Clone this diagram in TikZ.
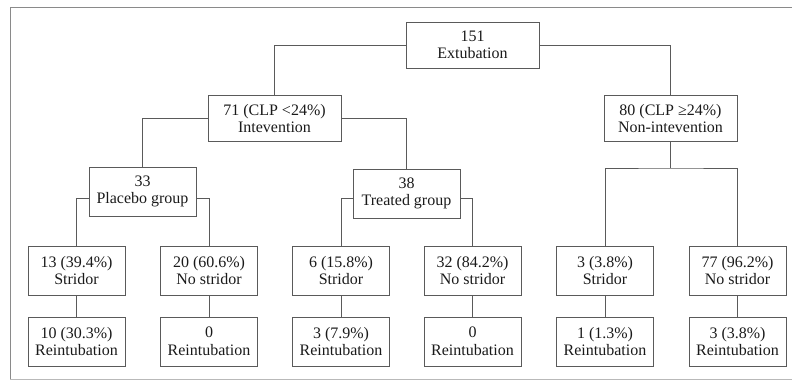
\documentclass[tikz,border=0pt]{standalone}
\usepackage{fontspec}
\setmainfont{Liberation Serif}
\definecolor{linegray}{HTML}{5A5A5A}
\definecolor{textgray}{HTML}{1A1A1A}
\definecolor{framegray}{HTML}{8A8A8A}
\begin{document}
\begin{tikzpicture}[x=1pt,y=-1pt,
  box/.style={draw=linegray, line width=1pt, align=center, inner sep=0pt,
    text=textgray, font=\fontsize{16}{17.5}\selectfont},
  wide/.style={box, minimum width=133pt, minimum height=46pt},
  mid/.style={box, minimum width=107pt, minimum height=49pt},
  leaf/.style={box, minimum width=97pt, minimum height=49pt},
  link/.style={draw=linegray, line width=1pt}]
\useasboundingbox (0,0) rectangle (792,380);
\draw[framegray, line width=1pt] (792,7) -- (10,7) -- (10,379);
\draw[framegray!60, line width=1pt] (10,379) -- (792,379);

\node[wide] (ext) at (472.5,45) {151\\Extubation};
\node[wide] (int) at (274.5,118.5) {71 (CLP <24\%)\\Intevention};
\node[wide] (non) at (670.5,118.5) {80 (CLP ≥24\%)\\Non-intevention};
\node[mid] (plac) at (142.5,191.5) {33\\Placebo group};
\node[mid] (trt) at (406.5,193.5) {38\\Treated group};

\node[leaf] (s1) at (76.5,270.5) {13 (39.4\%)\\Stridor};
\node[leaf] (n1) at (209,270.5) {20 (60.6\%)\\No stridor};
\node[leaf] (s2) at (341,270.5) {6 (15.8\%)\\Stridor};
\node[leaf] (n2) at (472.5,270.5) {32 (84.2\%)\\No stridor};
\node[leaf] (s3) at (605,270.5) {3 (3.8\%)\\Stridor};
\node[leaf] (n3) at (737.5,270.5) {77 (96.2\%)\\No stridor};

\node[leaf] (r1) at (76.5,341.5) {10 (30.3\%)\\Reintubation};
\node[leaf] (r2) at (209,341.5) {0\\Reintubation};
\node[leaf] (r3) at (341,341.5) {3 (7.9\%)\\Reintubation};
\node[leaf] (r4) at (472.5,341.5) {0\\Reintubation};
\node[leaf] (r5) at (605,341.5) {1 (1.3\%)\\Reintubation};
\node[leaf] (r6) at (737.5,341.5) {3 (3.8\%)\\Reintubation};

\draw[link] (ext.west) -| (int.north);
\draw[link] (ext.east) -| (non.north);
\draw[link] (int.west) -| (plac.north);
\draw[link] (int.east) -| (trt.north);
\draw[link] ([yshift=-6.5pt]plac.west) -| (s1.north);
\draw[link] ([yshift=-6.5pt]plac.east) -| (n1.north);
\draw[link] ([yshift=-4.5pt]trt.west) -| (s2.north);
\draw[link] ([yshift=-4.5pt]trt.east) -| (n2.north);
\coordinate (nj) at (670.5,168);
\draw[link] (non.south) -- (nj);
\draw[link] (s3.north) |- (nj) -| (n3.north);
\draw[link] (s1.south) -- (r1.north);
\draw[link] (n1.south) -- (r2.north);
\draw[link] (s2.south) -- (r3.north);
\draw[link] (n2.south) -- (r4.north);
\draw[link] (s3.south) -- (r5.north);
\draw[link] (n3.south) -- (r6.north);
\end{tikzpicture}
\end{document}
